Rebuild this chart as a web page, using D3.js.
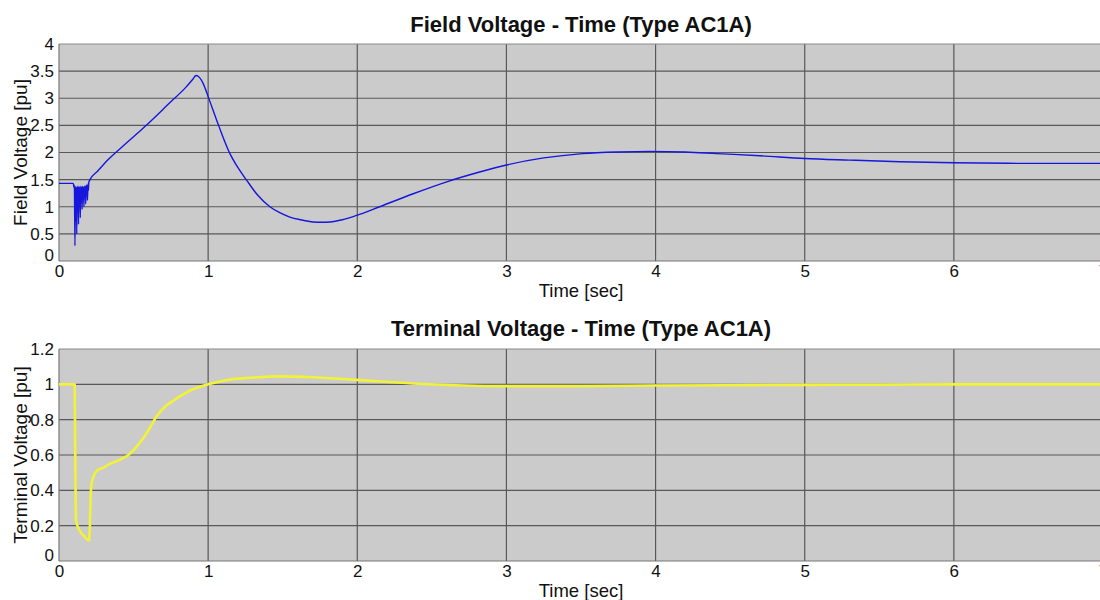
<!DOCTYPE html>
<html>
<head>
<meta charset="utf-8">
<script src="https://cdn.jsdelivr.net/npm/d3@7/dist/d3.min.js"></script>
<style>
  html, body { margin: 0; padding: 0; background: #ffffff; }
  svg { display: block; font-family: "Liberation Sans", Arial, sans-serif; }
</style>
</head>
<body>
<svg id="chart" width="1100" height="600"></svg>
<script>
// Excitation system response, type AC1A exciter

// Field voltage [pu] vs time [sec]
const fieldTime = [
  0, 0.05, 0.096, 0.100, 0.103, 0.107, 0.110, 0.113, 0.116, 0.119, 0.122, 0.125,
  0.128, 0.131, 0.134, 0.137, 0.140, 0.143, 0.146, 0.149, 0.152, 0.155, 0.158,
  0.161, 0.164, 0.167, 0.170, 0.173, 0.176, 0.179, 0.182, 0.185, 0.188, 0.191,
  0.194, 0.197, 0.200, 0.208, 0.26, 0.33, 0.45, 0.565, 0.744, 0.85, 0.90,
  0.918, 0.935, 0.967, 1.0, 1.07, 1.146, 1.2, 1.258, 1.33, 1.414, 1.48, 1.548,
  1.62, 1.705, 1.76, 1.816, 1.9, 1.995, 2.15, 2.375, 2.60, 2.82, 3.0, 3.25,
  3.51, 3.75, 3.96, 4.2, 4.41, 4.7, 5.0, 5.3, 5.64, 6.0, 6.5, 7.0
];
const fieldVolt = [
  1.43, 1.43, 1.43, 1.36, 1.40, 0.28, 1.38, 0.75, 1.35, 0.50, 1.38, 0.92,
  1.36, 0.68, 1.38, 1.02, 1.35, 0.80, 1.38, 1.08, 1.36, 0.95, 1.38,
  1.15, 1.36, 1.00, 1.38, 1.20, 1.37, 1.05, 1.40, 1.25, 1.39, 1.12,
  1.42, 1.30, 1.45, 1.50, 1.66, 1.87, 2.17, 2.45, 2.92, 3.20, 3.36,
  3.42, 3.40, 3.27, 3.03, 2.50, 1.98, 1.72, 1.49, 1.22, 1.00, 0.89, 0.81,
  0.76, 0.72, 0.715, 0.72, 0.76, 0.84, 1.00, 1.24, 1.46, 1.64, 1.77, 1.90,
  1.98, 2.01, 2.02, 2.01, 1.98, 1.94, 1.89, 1.86, 1.83, 1.81, 1.80, 1.80
];

// Terminal voltage [pu] vs time [sec]
const termTime = [
  0, 0.05, 0.105, 0.109, 0.114, 0.14, 0.17, 0.197, 0.203, 0.207, 0.212, 0.219,
  0.253, 0.30, 0.342, 0.40, 0.465, 0.543, 0.60, 0.655, 0.72, 0.789, 0.88,
  1.0, 1.13, 1.28, 1.48, 1.70, 1.995, 2.37, 2.66, 3.04, 3.5, 4.0, 4.5, 5.0,
  5.5, 6.0, 6.5, 7.0
];
const termVolt = [
  1.00, 1.00, 1.00, 0.60, 0.23, 0.17, 0.14, 0.117, 0.12, 0.20, 0.36, 0.44,
  0.51, 0.53, 0.55, 0.57, 0.60, 0.67, 0.74, 0.82, 0.88, 0.92, 0.965,
  1.00, 1.025, 1.037, 1.045, 1.04, 1.025, 1.005, 0.995, 0.99, 0.99, 0.993, 0.995, 0.997,
  0.998, 1.00, 1.00, 1.00
];

// Axis ticks
const timeTicks = [0, 1, 2, 3, 4, 5, 6, 7];
const fieldTicks = [0, 0.5, 1, 1.5, 2, 2.5, 3, 3.5, 4];
const termTicks = [0, 0.2, 0.4, 0.6, 0.8, 1, 1.2];

const panels = [
  {
    title: "Field Voltage - Time (Type AC1A)",
    ylabel: "Field Voltage [pu]",
    t: fieldTime, v: fieldVolt, yTicks: fieldTicks, yMax: 4,
    top: 44, bottom: 261, titleY: 32, color: "#1616dc", width: 1.4
  },
  {
    title: "Terminal Voltage - Time (Type AC1A)",
    ylabel: "Terminal Voltage [pu]",
    t: termTime, v: termVolt, yTicks: termTicks, yMax: 1.2,
    top: 349, bottom: 561, titleY: 336, color: "#f2f236", width: 2.6
  }
];

const svg = d3.select("#chart");
const left = 59, right = 1103;
const FONT = "Liberation Sans, Arial, sans-serif";

panels.forEach(p => {
  const x = d3.scaleLinear().domain([0, 7]).range([left, right]);
  const y = d3.scaleLinear().domain([0, p.yMax]).range([p.bottom, p.top]);
  const g = svg.append("g");

  // plot background
  g.append("rect")
    .attr("x", left).attr("y", p.top)
    .attr("width", right - left).attr("height", p.bottom - p.top)
    .attr("fill", "#cbcbcb");

  // grid lines
  g.selectAll(".vg").data(timeTicks.slice(1)).enter().append("line")
    .attr("x1", d => x(d)).attr("x2", d => x(d))
    .attr("y1", p.top).attr("y2", p.bottom)
    .attr("stroke", "#585858").attr("stroke-width", 1.2);
  g.selectAll(".hg").data(p.yTicks.slice(1, -1)).enter().append("line")
    .attr("x1", left).attr("x2", right)
    .attr("y1", d => y(d)).attr("y2", d => y(d))
    .attr("stroke", "#585858").attr("stroke-width", 1.2);

  // frame
  g.append("line").attr("x1", left).attr("x2", right).attr("y1", p.top).attr("y2", p.top)
    .attr("stroke", "#8a8a8a").attr("stroke-width", 1);
  g.append("line").attr("x1", left).attr("x2", right).attr("y1", p.bottom).attr("y2", p.bottom)
    .attr("stroke", "#777").attr("stroke-width", 1.2);
  g.append("line").attr("x1", left).attr("x2", left).attr("y1", p.top).attr("y2", p.bottom)
    .attr("stroke", "#777").attr("stroke-width", 1.2);

  // data line
  const pts = p.t.map((t, i) => [t, p.v[i]]);
  g.append("path")
    .datum(pts)
    .attr("d", d3.line().curve(d3.curveMonotoneX).x(d => x(d[0])).y(d => y(d[1])))
    .attr("fill", "none")
    .attr("stroke", p.color)
    .attr("stroke-width", p.width)
    .attr("stroke-linejoin", "round");

  // x tick labels
  const xAxis = d3.axisBottom(x).tickValues(timeTicks).tickSize(0).tickPadding(4)
    .tickFormat(d3.format("d"));
  const xa = g.append("g").attr("transform", `translate(0,${p.bottom})`).call(xAxis);
  xa.select(".domain").remove();
  xa.selectAll("text").attr("font-size", 17).attr("fill", "#111").attr("font-family", FONT);

  // y tick labels
  const yAxis = d3.axisLeft(y).tickValues(p.yTicks).tickSize(0).tickPadding(5)
    .tickFormat(d => String(+d.toFixed(1)));
  const ya = g.append("g").attr("transform", `translate(${left},0)`).call(yAxis);
  ya.select(".domain").remove();
  ya.selectAll("text").attr("font-size", 17).attr("fill", "#111").attr("font-family", FONT);
  ya.selectAll(".tick").filter(d => d === 0).select("text").attr("dy", "-0.05em");

  // title
  g.append("text")
    .attr("x", (left + right) / 2).attr("y", p.titleY)
    .attr("text-anchor", "middle")
    .attr("font-size", 22).attr("font-weight", "bold").attr("fill", "#111")
    .text(p.title);

  // x axis label
  g.append("text")
    .attr("x", (left + right) / 2).attr("y", p.bottom + 36)
    .attr("text-anchor", "middle")
    .attr("font-size", 18.5).attr("fill", "#111")
    .text("Time [sec]");

  // y axis label
  g.append("text")
    .attr("transform", `translate(27,${(p.top + p.bottom) / 2}) rotate(-90)`)
    .attr("text-anchor", "middle")
    .attr("font-size", 19).attr("fill", "#111")
    .text(p.ylabel);
});
</script>
</body>
</html>
